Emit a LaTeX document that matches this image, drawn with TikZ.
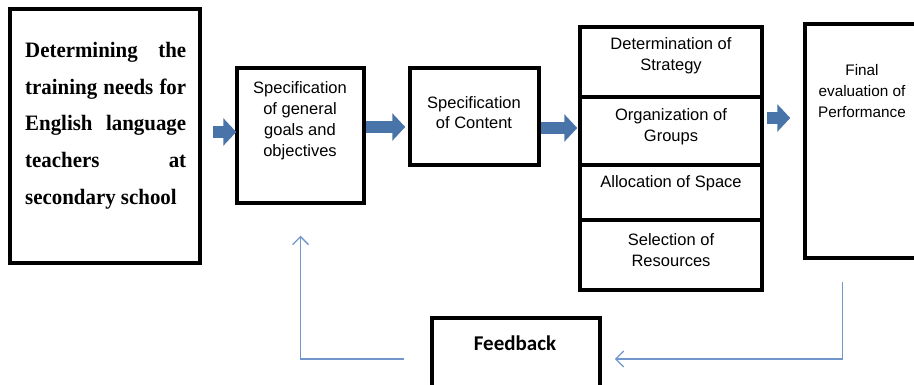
\documentclass[tikz,border=0pt]{standalone}
\usepackage{fontspec}
\setmainfont{Liberation Serif}
\newfontfamily\serifb[FakeStretch=0.95]{Liberation Serif}
\newfontfamily\sansf{Liberation Sans}
\newfontfamily\calib{Carlito}
\usetikzlibrary{arrows.meta}
\definecolor{blockblue}{RGB}{72,116,170}
\definecolor{thinblue}{RGB}{112,150,204}
\tikzset{
  box/.style={draw, line width=3.5pt, inner sep=0pt},
  sanstext/.style={align=center, inner sep=0pt, font=\sansf\fontsize{16.5}{21}\selectfont},
  barrow/.style={draw=blockblue, line width=12pt, -{Triangle[length=13pt,width=27pt]}},
  fbarrow/.style={draw=thinblue, line width=1.3pt, -{Straight Barb[length=8pt,width=16pt]}}
}
\begin{document}
\begin{tikzpicture}[x=1pt,y=-1pt]
\useasboundingbox (0,0) rectangle (914,385);
\clip (0,0) rectangle (914,385);
% boxes
\node[box, minimum width=190pt, minimum height=254pt] (b1) at (105,136) {};
\node[anchor=north west, inner sep=0pt, align=left, font=\serifb\bfseries\fontsize{22}{36.7}\selectfont] (b1t) at (25,42)
 {\hbox to 161pt{Determining\hfill the}\\
  \hbox to 161pt{training\hfill needs\hfill for}\\
  \hbox to 161pt{English\hfill language}\\
  \hbox to 161pt{teachers\hfill at}\\
  secondary school};
\node[box, minimum width=127pt, minimum height=135pt] (b2) at (300.5,135.5) {};
\node[sanstext] (b2t) at (300,120.5) {Specification\\of general\\goals and\\objectives};
\node[box, minimum width=129pt, minimum height=97pt] (b3) at (474.5,116.5) {};
\node[sanstext, font=\sansf\fontsize{16.5}{19.5}\selectfont] (b3t) at (474,112.5) {Specification\\of Content};
% stack
\node[box, minimum width=182pt, minimum height=70pt] (c1) at (671,62) {};
\node[box, minimum width=182pt, minimum height=68pt] (c2) at (671,131) {};
\node[box, minimum width=182pt, minimum height=55pt] (c3) at (671,192.5) {};
\node[box, minimum width=182pt, minimum height=70pt] (c4) at (671,255) {};
\node[sanstext] (c1t) at (671,56) {Determination of\\Strategy};
\node[sanstext] (c2t) at (671,126.5) {Organization of\\Groups};
\node[sanstext] (c3t) at (671,183) {Allocation of Space};
\node[sanstext] (c4t) at (671,250.5) {Selection of\\Resources};
% final
\node[box, minimum width=116pt, minimum height=234pt] (fin) at (863,141) {};
\node[sanstext, font=\sansf\fontsize{15.3}{21}\selectfont] (fint) at (862,91) {Final\\evaluation of\\Performance};
% feedback
\node[box, minimum width=168pt, minimum height=82pt] (fb) at (516,359) {};
\node[inner sep=0pt, font=\calib\bfseries\fontsize{21}{24}\selectfont] (fbt) at (515,343) {Feedback};
% block arrows
\draw[barrow] ([xshift=11pt]b1.east |- 0,132) -- ([xshift=1pt]b2.west |- 0,132);
\draw[barrow] (b2.east |- 0,127) -- ([xshift=-3pt]b3.west |- 0,127);
\draw[barrow] (b3.east |- 0,128) -- ([xshift=-1pt]c2.west |- 0,128);
\draw[barrow] ([xshift=3pt]c2.east |- 0,118) -- ([xshift=-13pt]fin.west |- 0,118);
% feedback lines
\draw[fbarrow] ([xshift=39pt,yshift=-22pt]fin.south west) |- ([xshift=13pt]fb.east);
\draw[fbarrow] ([xshift=-26pt]fb.west) -| ([yshift=-31pt]b2.south);
\end{tikzpicture}
\end{document}
